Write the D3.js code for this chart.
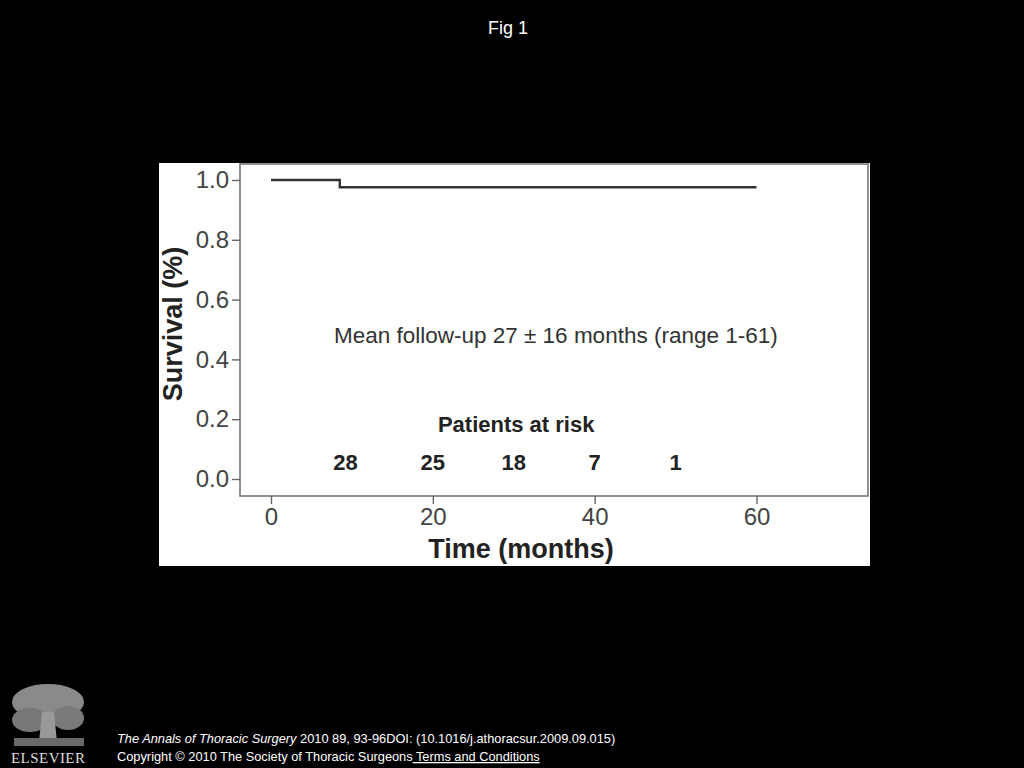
<!DOCTYPE html>
<html>
<head>
<meta charset="utf-8">
<script src="https://cdn.jsdelivr.net/npm/d3@7"></script>
<style>
  body { margin: 0; background: #000; }
  svg { display: block; }
</style>
</head>
<body>
<div id="chart"></div>
<script>
// Kaplan-Meier data
var kmTime = [0, 8.5, 60];
var kmSurv = [1.0, 0.976, 0.976];

// patients at risk row
var riskTime = [9.2, 20, 30, 40, 50];
var riskCount = [28, 25, 18, 7, 1];

var xTicks = [0, 20, 40, 60];
var yTicks = [0, 0.2, 0.4, 0.6, 0.8, 1.0];

// page + panel geometry
var W = 1024, H = 768;
var panel = {x: 159, y: 163, w: 711, h: 403};
var box = {left: 240, right: 868, top: 164, bottom: 496};

var svg = d3.select("#chart").append("svg")
    .attr("width", W).attr("height", H);

svg.append("rect").attr("width", W).attr("height", H).attr("fill", "#000");

// title
svg.append("text")
    .attr("x", 508).attr("y", 34)
    .attr("text-anchor", "middle")
    .attr("font-family", "Liberation Sans, Arial, sans-serif")
    .attr("font-size", "18px")
    .attr("fill", "#fff")
    .text("Fig 1");

// white figure panel
svg.append("rect")
    .attr("x", panel.x).attr("y", panel.y)
    .attr("width", panel.w).attr("height", panel.h)
    .attr("fill", "#fff");

//Scales
var x = d3.scaleLinear().domain([0, 60]).range([271, 756.5]);
var y = d3.scaleLinear().domain([0, 1]).range([479, 180]);

var g = svg.append("g")
    .attr("font-family", "Liberation Sans, Arial, sans-serif");

// plot box
g.append("rect")
    .attr("x", box.left).attr("y", box.top)
    .attr("width", box.right - box.left).attr("height", box.bottom - box.top)
    .attr("fill", "none")
    .attr("stroke", "#777")
    .attr("stroke-width", 1.6);

// y axis
var yAxis = g.append("g")
    .attr("transform", "translate(" + box.left + ",0)")
    .call(d3.axisLeft(y).tickValues(yTicks).tickFormat(d3.format(".1f")).tickSize(8).tickPadding(3));
yAxis.select(".domain").remove();
yAxis.selectAll("line").attr("stroke", "#666").attr("stroke-width", 1.4);
yAxis.selectAll("text")
    .attr("font-size", "24px")
    .attr("font-family", "Liberation Sans, Arial, sans-serif")
    .attr("fill", "#444");

// x axis
var xAxis = g.append("g")
    .attr("transform", "translate(0," + box.bottom + ")")
    .call(d3.axisBottom(x).tickValues(xTicks).tickFormat(d3.format("d")).tickSize(8).tickPadding(4));
xAxis.select(".domain").remove();
xAxis.selectAll("line").attr("stroke", "#666").attr("stroke-width", 1.4);
xAxis.selectAll("text")
    .attr("font-size", "24px")
    .attr("font-family", "Liberation Sans, Arial, sans-serif")
    .attr("fill", "#444");

// axis titles
g.append("text")
    .attr("transform", "translate(182,324) rotate(-90)")
    .attr("text-anchor", "middle")
    .attr("font-size", "27px")
    .attr("font-weight", "bold")
    .attr("fill", "#222")
    .text("Survival (%)");

g.append("text")
    .attr("x", 521).attr("y", 558)
    .attr("text-anchor", "middle")
    .attr("font-size", "27px")
    .attr("font-weight", "bold")
    .attr("fill", "#222")
    .text("Time (months)");

// survival step curve
var km = kmTime.map(function(t, i) { return {t: t, s: kmSurv[i]}; });
var line = d3.line()
    .x(function(d) { return x(d.t); })
    .y(function(d) { return y(d.s); })
    .curve(d3.curveStepAfter);

g.append("path")
    .datum(km)
    .attr("d", line)
    .attr("fill", "none")
    .attr("stroke", "#333")
    .attr("stroke-width", 2.4);

// annotation
g.append("text")
    .attr("x", x(35.2)).attr("y", y(0.48) + 8)
    .attr("text-anchor", "middle")
    .attr("font-size", "22.5px")
    .attr("fill", "#333")
    .text("Mean follow-up 27 \u00b1 16 months (range 1-61)");

g.append("text")
    .attr("x", x(30.3)).attr("y", y(0.185) + 8)
    .attr("text-anchor", "middle")
    .attr("font-size", "22px")
    .attr("font-weight", "bold")
    .attr("fill", "#222")
    .text("Patients at risk");

g.selectAll(".risk")
    .data(riskCount)
    .enter().append("text")
    .attr("class", "risk")
    .attr("x", function(d, i) { return x(riskTime[i]); })
    .attr("y", y(0.057) + 8)
    .attr("text-anchor", "middle")
    .attr("font-size", "22px")
    .attr("font-weight", "bold")
    .attr("fill", "#222")
    .text(function(d) { return d; });

// Elsevier logo (rough tree + wordmark)
var logo = svg.append("g");
logo.append("ellipse").attr("cx", 48).attr("cy", 702).attr("rx", 36).attr("ry", 18).attr("fill", "#8a8a8a");
logo.append("ellipse").attr("cx", 30).attr("cy", 720).attr("rx", 18).attr("ry", 12).attr("fill", "#777");
logo.append("ellipse").attr("cx", 68).attr("cy", 718).attr("rx", 16).attr("ry", 12).attr("fill", "#7a7a7a");
logo.append("path")
    .attr("d", "M42,712 L54,712 L57,742 L39,742 Z")
    .attr("fill", "#999");
logo.append("rect").attr("x", 14).attr("y", 738).attr("width", 70).attr("height", 8).attr("fill", "#6a6a6a");
svg.append("text")
    .attr("x", 48).attr("y", 763)
    .attr("text-anchor", "middle")
    .attr("font-family", "Liberation Serif, Times New Roman, serif")
    .attr("font-size", "15px")
    .attr("fill", "#ddd")
    .attr("textLength", 74)
    .text("ELSEVIER");

// footer
var foot = svg.append("g")
    .attr("font-family", "Liberation Sans, Arial, sans-serif")
    .attr("font-size", "12.8px")
    .attr("fill", "#fff");

var l1 = foot.append("text").attr("x", 117).attr("y", 743);
l1.append("tspan").attr("font-style", "italic").text("The Annals of Thoracic Surgery");
l1.append("tspan").text(" 2010 89, 93-96DOI: (10.1016/j.athoracsur.2009.09.015)");

var l2 = foot.append("text").attr("x", 117).attr("y", 761);
l2.append("tspan").text("Copyright \u00a9 2010 The Society of Thoracic Surgeons");
l2.append("tspan").attr("text-decoration", "underline").text(" Terms and Conditions");
</script>
</body>
</html>
